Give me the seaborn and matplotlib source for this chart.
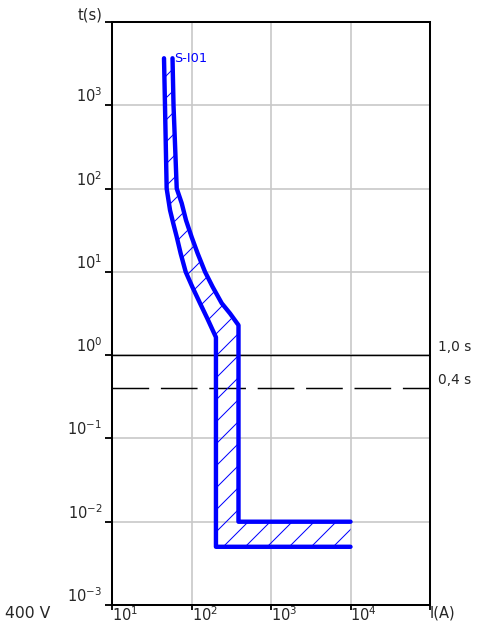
import numpy as np
import pandas as pd
import matplotlib
matplotlib.use("Agg")
import matplotlib.pyplot as plt
import seaborn as sns

# ---- data ----
min_I = [45.1, 46.4, 48.7, 53.7, 59, 65.2, 73.1, 84.5, 102.4, 128, 158, 203, 203, 10000]
min_t = [3670, 1000, 100, 55, 38.1, 26.3, 16.6, 10, 6.6, 4.2, 2.76, 1.64, 0.005, 0.005]
max_I = [57.7, 59.4, 65.2, 75.3, 85.3, 100.7, 119.6, 148, 184.5, 240, 305, 390, 390, 10000]
max_t = [3670, 1000, 100, 66.7, 41.7, 26, 16.6, 10, 6.6, 4.2, 3.17, 2.29, 0.01, 0.01]
x_ticks = [10, 100, 1000, 10000, 100000]
x_labels = [r"10$^{1}$", r"10$^{2}$", r"10$^{3}$", r"10$^{4}$", "I(A)"]
y_ticks = [0.001, 0.01, 0.1, 1, 10, 100, 1000, 10000]
y_labels = [r"10$^{-3}$", r"10$^{-2}$", r"10$^{-1}$", r"10$^{0}$",
            r"10$^{1}$", r"10$^{2}$", r"10$^{3}$", "t(s)"]
ref_times = [1.0, 0.4]
ref_labels = ["1,0 s", "0,4 s"]
curve_name = "S-I01"
voltage = "400 V"

DPI = 132
sns.set_style("white")
plt.rcParams["font.family"] = ["DejaVu Sans"]
plt.rcParams["hatch.linewidth"] = 0.55

fig = plt.figure(figsize=(477 / DPI, 624 / DPI), dpi=DPI)
ax = fig.add_axes([112 / 477, 1 - 605 / 624, (430 - 112) / 477, (605 - 22) / 624])
ax.set_xscale("log")
ax.set_yscale("log")
ax.set_xlim(10, 100000)
ax.set_ylim(0.001, 10000)

# grid
for xv in x_ticks:
    ax.axvline(xv, color="#c8c8c8", lw=0.9, zorder=0)
for yv in y_ticks:
    ax.axhline(yv, color="#c8c8c8", lw=0.9, zorder=0)

# reference times
ax.axhline(ref_times[0], color="black", lw=0.8, zorder=1)
ax.axhline(ref_times[1], color="black", lw=0.8, dashes=(25, 8), zorder=1)

# hatched band
poly_I = list(min_I) + list(max_I[::-1])
poly_t = list(min_t) + list(max_t[::-1])
ax.fill(poly_I, poly_t, facecolor="none", edgecolor="blue", lw=0,
        hatch="//", zorder=2)

df = pd.concat([
    pd.DataFrame({"I": min_I, "t": min_t, "curve": "min"}),
    pd.DataFrame({"I": max_I, "t": max_t, "curve": "max"}),
])
sns.lineplot(data=df, x="I", y="t", units="curve", estimator=None, sort=False,
             color="blue", lw=2.4, ax=ax, zorder=3, legend=False)
ax.set_xlabel("")
ax.set_ylabel("")

ax.text(max_I[0] * 1.05, max_t[0], curve_name, color="blue", fontsize=7,
        ha="left", va="center")

for tv, lab in zip(ref_times, ref_labels):
    ax.text(1.025, tv * 1.03, lab, transform=ax.get_yaxis_transform(),
            fontsize=7.5, ha="left", va="bottom")

ax.set_xticks(x_ticks)
ax.set_xticklabels(x_labels, fontsize=8, ha="left")
ax.set_yticks(y_ticks)
ax.set_yticklabels(y_labels, fontsize=8, va="bottom")
ax.minorticks_off()
ax.tick_params(axis="y", direction="out", length=3.8, width=1.0, pad=1.5,
               color="black", left=True)
ax.tick_params(axis="x", direction="out", length=2.8, width=1.0, pad=-2.5,
               color="black", bottom=True)

for s in ax.spines.values():
    s.set_color("black")
    s.set_linewidth(1.1)
    s.set_visible(True)

fig.text(5 / 477, 1 - 614 / 624, voltage, fontsize=8.5, ha="left", va="center")

fig.savefig("out.png", dpi=DPI)
